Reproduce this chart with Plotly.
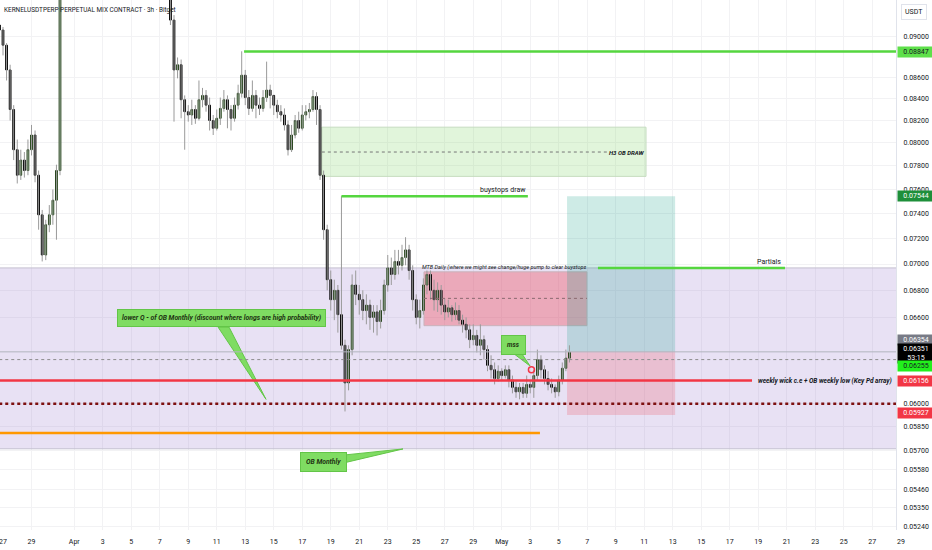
import math
import pandas as pd
import plotly.graph_objects as go

# ---------------- data (3h chart, sampled as 6h candles) ----------------
times = pd.date_range("2025-03-26 18:00", periods=161, freq="6h")

opens = [
    .0911, .0906, .0891, .0867, .0830, .0794, .0772, .0785, .0776, .0794,
    .0807, .0772, .0739, .0707, .0731, .0739, .0751, .0776, .0955, .0990,
    .1035, .1080, .1120, .1150, .1105, .1140, .1180, .1210, .1165, .1130,
    .1175, .1220, .1190, .1150, .1120, .1160, .1130, .1090, .1110, .1070,
    .1040, .1065, .1030, .1005, .1020, .0995, .0980, .0990, .0965, .0916,
    .0867, .0872, .0839, .0828, .0825, .0830, .0822, .0839, .0843, .0834,
    .0820, .0813, .0822, .0831, .0839, .0830, .0822, .0834, .0845, .0862,
    .0841, .0831, .0843, .0834, .0831, .0841, .0848, .0843, .0834, .0828,
    .0825, .0816, .0794, .0807, .0820, .0813, .0825, .0828, .0830, .0842,
    .0830, .0772, .0727, .0688, .0673, .0680, .0662, .0640, .0614, .0637,
    .0684, .0677, .0673, .0665, .0669, .0660, .0664, .0657, .0665, .0684,
    .0697, .0692, .0702, .0699, .0705, .0711, .0695, .0673, .0660, .0665,
    .0684, .0692, .0680, .0673, .0680, .0669, .0664, .0667, .0662, .0665,
    .0658, .0655, .0651, .0644, .0647, .0640, .0644, .0637, .0626, .0623,
    .0617, .0622, .0619, .0623, .0616, .0611, .0608, .0611, .0607, .0613,
    .0611, .0619, .0630, .0623, .0617, .0613, .0611, .0608, .0616, .0624,
    .0631,
]
highs = [
    .0916, .0909, .0893, .0872, .0834, .0803, .0794, .0792, .0803, .0816,
    .0811, .0776, .0743, .0735, .0747, .0760, .0781, .0968, .1000, .1045,
    .1095, .1135, .1170, .1160, .1150, .1195, .1230, .1220, .1175, .1185,
    .1235, .1230, .1200, .1160, .1170, .1170, .1140, .1120, .1120, .1080,
    .1075, .1075, .1040, .1030, .1030, .1005, .0998, .0995, .0975, .0921,
    .0879, .0877, .0843, .0834, .0839, .0834, .0857, .0850, .0848, .0841,
    .0825, .0830, .0841, .0848, .0843, .0834, .0841, .0853, .0885, .0867,
    .0848, .0857, .0848, .0841, .0848, .0875, .0853, .0843, .0839, .0834,
    .0831, .0820, .0816, .0825, .0828, .0834, .0834, .0836, .0848, .0846,
    .0834, .0776, .0731, .0695, .0688, .0684, .07544, .0644, .0640, .0692,
    .0695, .0684, .0680, .0677, .0673, .0669, .0669, .0673, .0688, .0707,
    .0705, .0711, .0711, .0715, .0721, .0715, .0699, .0677, .0673, .0689,
    .0695, .0695, .0688, .0686, .0684, .0674, .0673, .0669, .0671, .0669,
    .0662, .0660, .0655, .0655, .0651, .0655, .0647, .0640, .0633, .0628,
    .0626, .0624, .0626, .0626, .0619, .0615, .0614, .0614, .0619, .0616,
    .0623, .0637, .0633, .0626, .0622, .0617, .0613, .0619, .0628, .0637,
    .0640,
]
lows = [
    .0896, .0881, .0857, .0820, .0785, .0765, .0768, .0770, .0772, .0789,
    .0766, .0727, .0702, .0703, .0725, .0731, .0719, .0772, .0950, .0980,
    .1025, .1070, .1110, .1095, .1095, .1130, .1170, .1155, .1120, .1120,
    .1165, .1180, .1140, .1110, .1110, .1120, .1080, .1080, .1060, .1030,
    .1030, .1020, .0995, .0995, .0985, .0972, .0970, .0955, .0911, .0819,
    .0859, .0822, .0794, .0819, .0816, .0817, .0820, .0832, .0828, .0811,
    .0807, .0811, .0816, .0828, .0813, .0811, .0819, .0830, .0841, .0834,
    .0825, .0828, .0822, .0825, .0828, .0837, .0831, .0825, .0822, .0819,
    .0811, .0789, .0792, .0804, .0809, .0811, .0820, .0822, .0828, .0816,
    .0768, .0719, .0680, .0665, .0658, .0649, .0637, .0595, .0609, .0633,
    .0669, .0662, .0658, .0655, .0651, .0649, .0647, .0652, .0662, .0679,
    .0684, .0688, .0692, .0695, .0699, .0688, .0665, .0655, .0652, .0662,
    .0677, .0673, .0665, .0664, .0662, .0658, .0660, .0657, .0658, .0655,
    .0649, .0645, .0638, .0640, .0635, .0633, .0630, .0622, .0617, .0613,
    .0615, .0616, .0617, .0611, .0607, .0604, .0603, .0604, .0604, .0607,
    .0604, .0616, .0617, .0613, .0609, .0607, .0604, .0605, .0613, .0622,
    .0628,
]
closes = [
    .0906, .0891, .0867, .0830, .0794, .0772, .0785, .0776, .0794, .0807,
    .0772, .0739, .0707, .0731, .0739, .0751, .0776, .0955, .0990, .1035,
    .1080, .1120, .1150, .1105, .1140, .1180, .1210, .1165, .1130, .1175,
    .1220, .1190, .1150, .1120, .1160, .1130, .1090, .1110, .1070, .1040,
    .1065, .1030, .1005, .1020, .0995, .0980, .0990, .0965, .0916, .0867,
    .0872, .0839, .0828, .0825, .0830, .0822, .0839, .0843, .0834, .0820,
    .0813, .0822, .0831, .0839, .0830, .0822, .0834, .0845, .0862, .0841,
    .0831, .0843, .0834, .0831, .0841, .0848, .0843, .0834, .0828, .0825,
    .0816, .0794, .0807, .0820, .0813, .0825, .0828, .0830, .0842, .0830,
    .0772, .0727, .0688, .0673, .0680, .0662, .0640, .0614, .0637, .0684,
    .0677, .0673, .0665, .0669, .0660, .0664, .0657, .0665, .0684, .0697,
    .0692, .0702, .0699, .0705, .0711, .0695, .0673, .0660, .0665, .0684,
    .0692, .0680, .0673, .0680, .0669, .0664, .0667, .0662, .0665, .0658,
    .0655, .0651, .0644, .0647, .0640, .0644, .0637, .0626, .0623, .0617,
    .0622, .0619, .0623, .0616, .0611, .0608, .0611, .0607, .0613, .0611,
    .0619, .0630, .0623, .0617, .0613, .0611, .0608, .0616, .0624, .0631,
    .06351,
]

# price levels
lvl_top_draw = 0.08847
lvl_buystops = 0.07544
lvl_entry = 0.06354
lvl_last = 0.06351
lvl_dotted_grey = 0.0630
lvl_green_tag = 0.06255
lvl_weekly = 0.06156
lvl_dotted_red = 0.0600
lvl_stop = 0.05927
lvl_orange = 0.0581
ob_month_top, ob_month_bot = 0.0697, 0.0571
h3_top, h3_mid, h3_bot = 0.0814, 0.0792, 0.0771
mtb_top, mtb_mid, mtb_bot = 0.0694, 0.0674, 0.0654

y_tick_vals = [0.0524, 0.0535, 0.0546, 0.0558, 0.0570, 0.0585, 0.0600, 0.0660,
               0.0680, 0.0700, 0.0720, 0.0740, 0.0760, 0.0780, 0.0800, 0.0820,
               0.0840, 0.0860, 0.0900]
y_tick_text = ["0.05240", "0.05350", "0.05460", "0.05580", "0.05700", "0.05850",
               "0.06000", "0.06600", "0.06800", "0.07000", "0.07200", "0.07400",
               "0.07600", "0.07800", "0.08000", "0.08200", "0.08400", "0.08600",
               "0.09000"]

x_tick_vals = ["2025-03-27", "2025-03-29", "2025-04-01"] + \
    [f"2025-04-{d:02d}" for d in range(3, 30, 2)] + ["2025-05-01"] + \
    [f"2025-05-{d:02d}" for d in range(3, 28, 2)]
x_tick_text = ["27", "29", "Apr"] + [str(d) for d in range(3, 30, 2)] + ["May"] + \
    [str(d) for d in range(3, 28, 2)]

# ---------------- figure ----------------
FONT = "Roboto"
TXT = "#131722"
GREEN = "#55d63f"
CALLOUT_FILL = "#7fdc62"
CALLOUT_LINE = "#63c548"

fig = go.Figure()

# wicks
wx, wy = [], []
for t, h, l in zip(times, highs, lows):
    wx += [t, t, None]
    wy += [l, h, None]
fig.add_trace(go.Scatter(x=wx, y=wy, mode="lines",
                         line=dict(color="#9a9a9a", width=1),
                         hoverinfo="skip", showlegend=False))
# bodies
body_hi = [max(o, c) for o, c in zip(opens, closes)]
body_lo = [min(o, c) for o, c in zip(opens, closes)]
fig.add_trace(go.Candlestick(
    x=times, open=opens, high=body_hi, low=body_lo, close=closes,
    increasing=dict(line=dict(color="#1d3a12", width=1), fillcolor="#3f8f33"),
    decreasing=dict(line=dict(color="#000000", width=1), fillcolor="#000000"),
    whiskerwidth=0, showlegend=False, hoverinfo="skip"))

X_LEFT = "2025-03-20"
X_RIGHT = "2025-06-10"

shapes = []


def rect(x0, x1, y0, y1, fill, line="rgba(0,0,0,0)", layer="between", lw=1):
    shapes.append(dict(type="rect", xref="x", yref="y", x0=x0, x1=x1, y0=y0, y1=y1,
                       fillcolor=fill, line=dict(color=line, width=lw), layer=layer))


def hline(x0, x1, y, color, width, dash="solid", layer="above"):
    shapes.append(dict(type="line", xref="x", yref="y", x0=x0, x1=x1, y0=y, y1=y,
                       line=dict(color=color, width=width, dash=dash), layer=layer))


# OB monthly zone
rect(X_LEFT, X_RIGHT, ob_month_bot, ob_month_top, "rgba(149,117,205,0.22)",
     line="#c4bfd0", lw=1)
# H3 OB draw box
rect("2025-04-18 09:00", "2025-05-11 03:00", h3_bot, h3_top, "rgba(120,210,90,0.22)",
     line="#c6dcc0")
hline("2025-04-18 09:00", "2025-05-08 09:00", h3_mid, "#777777", 1, "dot")
# MTB daily box
rect("2025-04-25 13:00", "2025-05-06 23:30", mtb_bot, mtb_top, "rgba(242,54,69,0.33)",
     line="#c8b4bc")
hline("2025-04-25 13:00", "2025-05-06 23:30", mtb_mid, "#8a6a70", 1, "dot")
# long position boxes
rect("2025-05-05 14:00", "2025-05-13 04:00", lvl_entry, lvl_buystops, "rgba(8,153,129,0.20)")
rect("2025-05-05 14:00", "2025-05-13 04:00", lvl_stop, lvl_entry, "rgba(242,54,69,0.20)")

# lines
hline("2025-04-12 22:00", X_RIGHT, lvl_top_draw, GREEN, 2.5)
hline("2025-04-19 18:00", "2025-05-02 20:00", lvl_buystops, GREEN, 2.5)
hline("2025-05-07 18:00", "2025-05-20 21:00", ob_month_top, GREEN, 2.5)
hline(X_LEFT, X_RIGHT, lvl_entry, "#b2b5be", 1)
hline(X_LEFT, X_RIGHT, lvl_dotted_grey, "#8c8c8c", 1, "dot")
hline(X_LEFT, "2025-05-18 13:30", lvl_weekly, "#f23645", 2.5)
hline(X_LEFT, X_RIGHT, lvl_dotted_red, "#7d1010", 2.5, "dot")
hline(X_LEFT, "2025-05-03 16:20", lvl_orange, "#ff9800", 2.5)

# callout pointers (triangles)
pointers = [
    (["2025-04-11 02:10", "2025-04-11 20:40", "2025-04-14 11:00"], [0.0653, 0.0653, 0.0603]),
    (["2025-04-19 20:00", "2025-04-19 20:00", "2025-04-24 01:40"], [0.0567, 0.0562, 0.05709]),
    (["2025-05-01 20:40", "2025-05-02 10:00", "2025-05-02 23:40"], [0.0634, 0.0634, 0.06256]),
]
for px, py in pointers:
    fig.add_trace(go.Scatter(x=px + [px[0]], y=py + [py[0]], mode="lines", fill="toself",
                             fillcolor=CALLOUT_FILL, line=dict(color=CALLOUT_LINE, width=1),
                             hoverinfo="skip", showlegend=False))
# mss marker icon
fig.add_trace(go.Scatter(x=["2025-05-03 02:00"], y=[0.0623], mode="markers",
                         marker=dict(symbol="circle-open", size=6, color="#f23645",
                                     line=dict(width=1.5)),
                         hoverinfo="skip", showlegend=False))

L = math.log10
ann = []


def note(x, y, text, xanchor="center", yanchor="middle", size=7, italic=True, color=TXT,
         bg=None, border=None, pad=0, xshift=0, yshift=0, weight="normal"):
    d = dict(xref="x", yref="y", x=x, y=L(y), text=text, showarrow=False,
             xanchor=xanchor, yanchor=yanchor, xshift=xshift, yshift=yshift,
             font=dict(family=FONT, size=size, color=color,
                       style="italic" if italic else "normal", weight=weight),
             borderpad=pad)
    if bg:
        d["bgcolor"] = bg
    if border:
        d["bordercolor"] = border
        d["borderwidth"] = 1
    ann.append(d)


note("2025-05-11 01:00", h3_mid, "H3 OB DRAW", xanchor="right", size=6, weight="bold")
note("2025-05-02 18:30", lvl_buystops, "buystops draw", xanchor="right", yanchor="bottom",
     size=7, italic=False, yshift=1)
note("2025-05-06 23:30", mtb_top, "MTB Daily (where we might see change/huge pump to clear buystops",
     xanchor="right", yanchor="bottom", size=5.5, yshift=0)
note("2025-05-20 16:00", ob_month_top, "Partials", xanchor="right", yanchor="bottom",
     size=7, italic=False, yshift=1)
note("2025-05-18 21:50", lvl_weekly, "weekly wick c.e + OB weekly low (Key Pd array)",
     xanchor="left", size=6.5, weight="bold")
note("2025-04-11 08:50", 0.06596,
     "lower Q - of OB Monthly (discount where longs are high probability)",
     size=6.8, bg=CALLOUT_FILL, border=CALLOUT_LINE, pad=4, color="#1e3312", weight="bold")
note("2025-04-18 11:45", 0.05628, "OB Monthly", size=6.8, bg=CALLOUT_FILL,
     border=CALLOUT_LINE, pad=5, color="#1e3312", weight="bold")
note("2025-05-01 19:45", 0.06402, "mss", size=6.5, bg=CALLOUT_FILL,
     border=CALLOUT_LINE, pad=5, color="#1e3312", weight="bold")

# price-scale tags


def tag(y, text, bg, fg, yshift=0):
    ann.append(dict(xref="paper", yref="y", x=1, y=L(y), text=text, showarrow=False,
                    xanchor="left", yanchor="middle", xshift=1, yshift=yshift,
                    width=34, align="center", bgcolor=bg, borderpad=1,
                    font=dict(family=FONT, size=7, color=fg)))


tag(lvl_top_draw, "0.08847", "#5ee04a", TXT)
tag(lvl_buystops, "0.07544", "#1e8f3a", "#ffffff")
tag(lvl_entry, "0.06354", "#787b86", "#ffffff", yshift=12)
tag(lvl_last, "0.06351<br>53:15", "#000000", "#ffffff", yshift=-1)
tag(lvl_green_tag, "0.06255", "#22f01c", TXT)
tag(lvl_weekly, "0.06156", "#f23645", "#ffffff")
tag(lvl_stop, "0.05927", "#f23645", "#ffffff", yshift=2)

ann.append(dict(xref="paper", yref="paper", x=1, y=1, text="USDT", showarrow=False,
                xanchor="left", yanchor="top", xshift=5, yshift=-4, bgcolor="#ffffff",
                bordercolor="#e0e3eb", borderwidth=1, borderpad=3,
                font=dict(family=FONT, size=7, color=TXT)))
ann.append(dict(xref="paper", yref="paper", x=0, y=1, showarrow=False,
                text="KERNELUSDTPERP PERPETUAL MIX CONTRACT · 3h · Bitget",
                xanchor="left", yanchor="top", xshift=2, yshift=-4,
                font=dict(family=FONT, size=6.4, color=TXT)))
# edge date labels that plotly would clip
ann.append(dict(xref="x", yref="paper", x="2025-03-27", y=0, text="27", showarrow=False,
                xanchor="center", yanchor="top", yshift=-6,
                font=dict(family=FONT, size=7, color=TXT)))
ann.append(dict(xref="paper", yref="paper", x=1, y=0, text="29", showarrow=False,
                xanchor="center", yanchor="top", xshift=5, yshift=-6,
                font=dict(family=FONT, size=7, color=TXT)))

fig.update_layout(
    width=932, height=550,
    margin=dict(l=0, r=36, t=0, b=20),
    paper_bgcolor="#ffffff", plot_bgcolor="#ffffff",
    shapes=shapes, annotations=ann,
    showlegend=False,
    xaxis=dict(type="date", range=["2025-03-26 18:57", "2025-05-28 16:00"],
               tickvals=x_tick_vals[1:], ticktext=x_tick_text[1:],
               showgrid=True, gridcolor="#f2f2f4", gridwidth=1,
               zeroline=False, showline=False, ticks="",
               ticklabelstandoff=6,
               tickfont=dict(family=FONT, size=7, color=TXT),
               rangeslider=dict(visible=False), fixedrange=True),
    yaxis=dict(type="log", side="right",
               range=[math.log10(0.05221), math.log10(0.09365)],
               tickvals=y_tick_vals, ticktext=y_tick_text,
               showgrid=True, gridcolor="#f2f2f4", gridwidth=1,
               zeroline=False, showline=True, linecolor="#e0e3eb", ticks="",
               ticklabelstandoff=5,
               tickfont=dict(family=FONT, size=7, color=TXT), fixedrange=True),
)

fig.write_html("out.html", config={"displayModeBar": False},
               post_script="document.body.style.margin='0';document.body.style.overflow='hidden';")
